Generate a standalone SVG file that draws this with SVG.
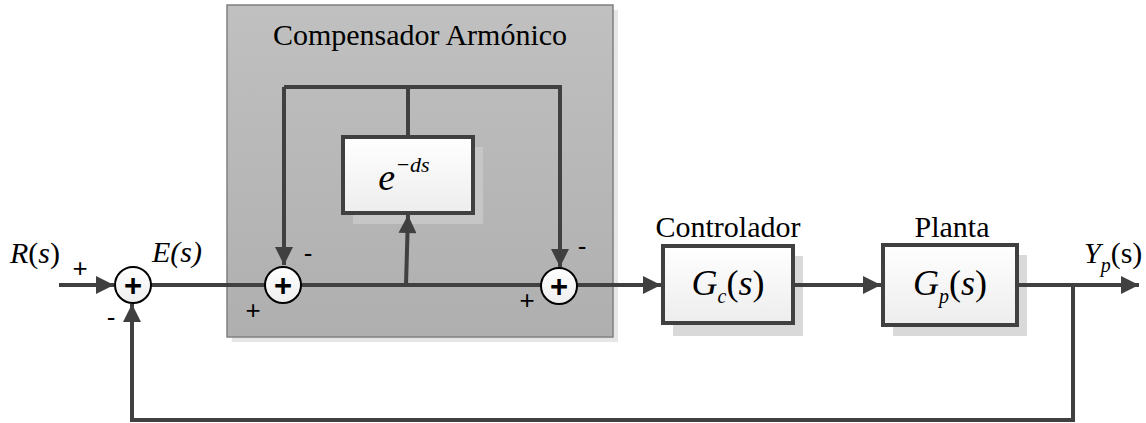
<svg xmlns="http://www.w3.org/2000/svg" width="1146" height="423" viewBox="0 0 1146 423">
<style>
.ln{fill:none;stroke:#404040;stroke-width:4}
.blk{stroke:#404040;stroke-width:4;fill:url(#bg)}
.sh{fill:#d9d9d9}
.sum{fill:url(#sg);stroke:#000;stroke-width:2}
</style>
<defs>
<linearGradient id="bg" x1="0" y1="0" x2="0" y2="1"><stop offset="0" stop-color="#ffffff"/><stop offset="1" stop-color="#ededed"/></linearGradient>
<linearGradient id="sg" x1="0" y1="0" x2="0" y2="1"><stop offset="0" stop-color="#ffffff"/><stop offset="1" stop-color="#eeeeee"/></linearGradient>
<linearGradient id="gg" x1="0" y1="0" x2="0" y2="1"><stop offset="0" stop-color="#c0c0c0"/><stop offset="1" stop-color="#afafaf"/></linearGradient>
<marker id="ah" viewBox="0 0 10 10" refX="10" refY="5" markerWidth="5" markerHeight="4.5" orient="auto" markerUnits="strokeWidth">
<path d="M0,0 L10,5 L0,10 z" fill="#404040"/>
</marker>
</defs>

<g id="compensador">
<rect x="232" y="10" width="386" height="332" fill="#e6e6e6"/>
<rect x="227" y="5" width="386" height="332" fill="url(#gg)" stroke="#808080" stroke-width="1.5"/>
<text x="420" y="45" font-family="Liberation Serif, Times New Roman, DejaVu Serif, serif" font-size="30" text-anchor="middle" fill="#000">Compensador Armónico</text>
</g>

<g id="delay">
<rect x="353" y="147" width="130" height="77" fill="#c6c6c6"/>
<rect x="343" y="137" width="130" height="76" class="blk"/>
<text x="404" y="190" font-family="Liberation Serif, Times New Roman, DejaVu Serif, serif" font-size="38" font-style="italic" text-anchor="middle" fill="#000">e<tspan font-size="22" dy="-18">−ds</tspan></text>
</g>

<g id="controlador">
<text x="728" y="237" font-family="Liberation Serif, Times New Roman, DejaVu Serif, serif" font-size="30" text-anchor="middle" fill="#000">Controlador</text>
<rect x="673" y="256" width="130" height="80" class="sh"/>
<rect x="663" y="246" width="130" height="77" class="blk"/>
<text x="728" y="295" font-family="Liberation Serif, Times New Roman, DejaVu Serif, serif" font-size="36" text-anchor="middle" fill="#000"><tspan font-style="italic">G</tspan><tspan font-style="italic" font-size="20" dy="8">c</tspan><tspan dy="-8">(</tspan><tspan font-style="italic">s</tspan>)</text>
</g>

<g id="planta">
<text x="952" y="237" font-family="Liberation Serif, Times New Roman, DejaVu Serif, serif" font-size="30" text-anchor="middle" fill="#000">Planta</text>
<rect x="893" y="255" width="134" height="81" class="sh"/>
<rect x="883" y="245" width="134" height="80" class="blk"/>
<text x="950" y="295" font-family="Liberation Serif, Times New Roman, DejaVu Serif, serif" font-size="36" text-anchor="middle" fill="#000"><tspan font-style="italic">G</tspan><tspan font-style="italic" font-size="20" dy="8">p</tspan><tspan dy="-8">(</tspan><tspan font-style="italic">s</tspan>)</text>
</g>

<g id="connectors">
<line class="ln" x1="59" y1="285" x2="114" y2="285" marker-end="url(#ah)"/>
<line class="ln" x1="151" y1="285" x2="265" y2="285"/>
<line class="ln" x1="301" y1="285" x2="541" y2="285"/>
<line class="ln" x1="406" y1="285" x2="408" y2="215" marker-end="url(#ah)"/>
<polyline class="ln" points="284,87 560,87 560,267" marker-end="url(#ah)"/>
<line class="ln" x1="284" y1="87" x2="284" y2="265" marker-end="url(#ah)"/>
<line class="ln" x1="408" y1="87" x2="408" y2="137"/>
<line class="ln" x1="577" y1="285" x2="661" y2="285" marker-end="url(#ah)"/>
<line class="ln" x1="793" y1="285" x2="881" y2="285" marker-end="url(#ah)"/>
<line class="ln" x1="1017" y1="285" x2="1139" y2="285" marker-end="url(#ah)"/>
<polyline class="ln" points="1073,285 1073,420 132,420 132,304" marker-end="url(#ah)"/>
</g>

<g id="sum1">
<circle cx="133" cy="285" r="18" class="sum"/>
<text x="133" y="296" font-family="Liberation Sans, Arial, sans-serif" font-size="31" font-weight="bold" text-anchor="middle" fill="#000">+</text>
</g>
<g id="sum2">
<circle cx="283" cy="285" r="18" class="sum"/>
<text x="283" y="296" font-family="Liberation Sans, Arial, sans-serif" font-size="31" font-weight="bold" text-anchor="middle" fill="#000">+</text>
</g>
<g id="sum3">
<circle cx="559" cy="286" r="18" class="sum"/>
<text x="559" y="297" font-family="Liberation Sans, Arial, sans-serif" font-size="31" font-weight="bold" text-anchor="middle" fill="#000">+</text>
</g>

<g id="labels" font-family="Liberation Serif, Times New Roman, DejaVu Serif, serif" font-size="30" fill="#000">
<text x="10" y="263"><tspan font-style="italic">R</tspan>(<tspan font-style="italic">s</tspan>)</text>
<text x="152" y="262" font-style="italic">E(s)</text>
<text x="1084" y="263"><tspan font-style="italic">Y</tspan><tspan font-style="italic" font-size="20" dy="9">p</tspan><tspan dy="-9">(s)</tspan></text>
</g>
<g id="signs" font-family="Liberation Sans, Arial, sans-serif" font-size="26" text-anchor="middle" fill="#000">
<text x="80" y="277">+</text>
<text x="111" y="326">-</text>
<text x="253" y="319">+</text>
<text x="308" y="262">-</text>
<text x="582" y="255">-</text>
<text x="527" y="309">+</text>
</g>
</svg>
